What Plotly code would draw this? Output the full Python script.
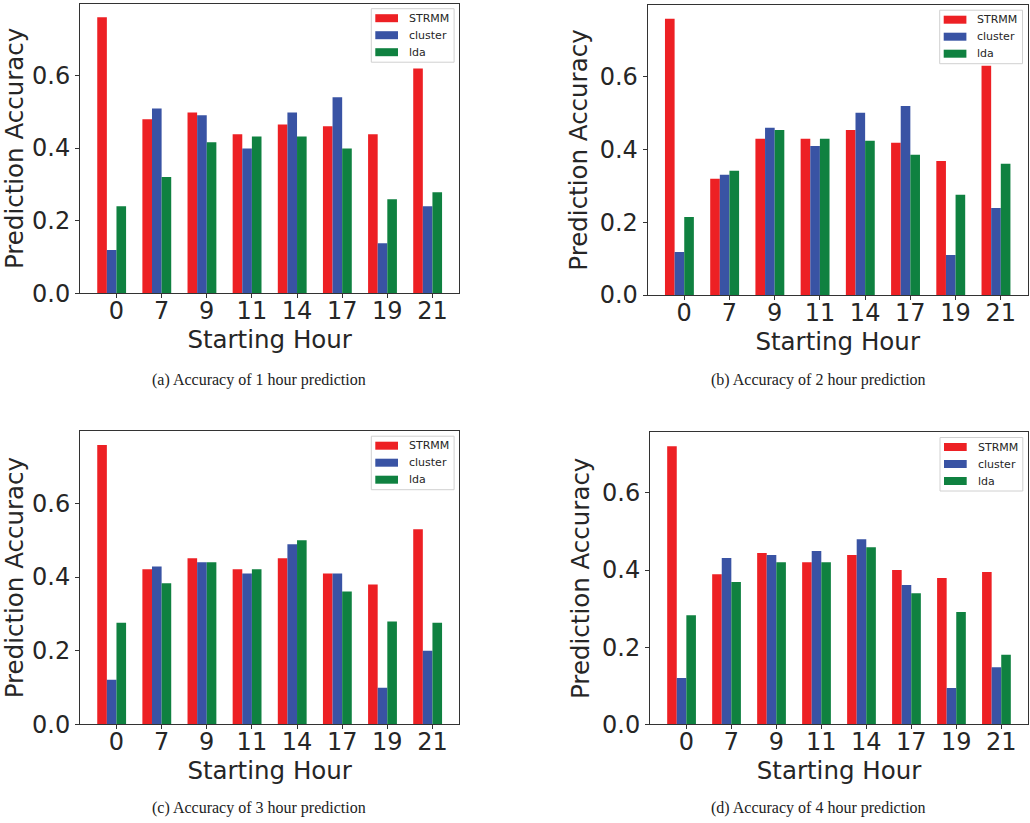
import plotly.graph_objects as go

W, H = 1030, 823

hours = ["0", "7", "9", "11", "14", "17", "19", "21"]
series_names = ["STRMM", "cluster", "lda"]
series_colors = ["#ED2024", "#3953A4", "#0F8140"]

# (a) 1 hour prediction
strmm_1h = [0.760, 0.479, 0.498, 0.438, 0.465, 0.460, 0.438, 0.619]
cluster_1h = [0.119, 0.509, 0.490, 0.399, 0.498, 0.540, 0.138, 0.240]
lda_1h = [0.240, 0.320, 0.416, 0.432, 0.432, 0.399, 0.259, 0.278]

# (b) 2 hour prediction
strmm_2h = [0.758, 0.319, 0.429, 0.429, 0.453, 0.418, 0.368, 0.629]
cluster_2h = [0.118, 0.330, 0.459, 0.409, 0.500, 0.519, 0.110, 0.239]
lda_2h = [0.214, 0.341, 0.453, 0.429, 0.423, 0.385, 0.275, 0.360]

# (c) 3 hour prediction
strmm_3h = [0.759, 0.421, 0.451, 0.421, 0.451, 0.410, 0.380, 0.530]
cluster_3h = [0.121, 0.429, 0.440, 0.410, 0.489, 0.410, 0.099, 0.200]
lda_3h = [0.276, 0.383, 0.440, 0.421, 0.500, 0.361, 0.279, 0.276]

# (d) 4 hour prediction
strmm_4h = [0.721, 0.389, 0.444, 0.420, 0.439, 0.400, 0.379, 0.395]
cluster_4h = [0.120, 0.431, 0.439, 0.449, 0.480, 0.361, 0.094, 0.148]
lda_4h = [0.283, 0.369, 0.420, 0.420, 0.459, 0.340, 0.291, 0.180]

captions = [
    "(a) Accuracy of 1 hour prediction",
    "(b) Accuracy of 2 hour prediction",
    "(c) Accuracy of 3 hour prediction",
    "(d) Accuracy of 4 hour prediction",
]

panels_data = [
    [strmm_1h, cluster_1h, lda_1h],
    [strmm_2h, cluster_2h, lda_2h],
    [strmm_3h, cluster_3h, lda_3h],
    [strmm_4h, cluster_4h, lda_4h],
]

# plot areas in pixels: left, top, right, bottom
areas = [
    (80.0, 3.5, 459.3, 293.3),
    (647.7, 5.0, 1027.7, 295.0),
    (80.0, 431.0, 459.3, 724.3),
    (650.0, 432.3, 1028.0, 724.3),
]
caption_pos = [(258.5, 380.0), (818.5, 380.0), (258.5, 808.0), (818.5, 808.0)]

TEXT = "#262626"
FONT = "DejaVu Sans"


def px_x(x):
    return x / W


def px_y(y):
    return 1 - y / H


bw = 0.213
offsets = [-1.5 * bw, -0.5 * bw, 0.5 * bw]
lo = -2 * bw
hi = len(hours) - 1 + bw
pad = 0.05 * (hi - lo)
xrange_ = [lo - pad, hi + pad]

fig = go.Figure()
layout = dict(
    width=W, height=H,
    margin=dict(l=0, r=0, t=0, b=0),
    paper_bgcolor="white", plot_bgcolor="white",
    barmode="overlay", showlegend=False,
    font=dict(family=FONT, color=TEXT),
)
shapes = []
annotations = []

for p, (vals, area) in enumerate(zip(panels_data, areas)):
    n = "" if p == 0 else str(p + 1)
    xa, ya = "x" + n, "y" + n
    L, T, R, B = area
    for s, (name, col, v) in enumerate(zip(series_names, series_colors, vals)):
        fig.add_trace(go.Bar(
            x=[i + offsets[s] for i in range(len(hours))], y=v, width=bw,
            name=name, marker=dict(color=col, line=dict(width=0)),
            xaxis=xa, yaxis=ya, showlegend=False,
        ))
    ymax = 1.05 * max(max(v) for v in vals)
    layout["xaxis" + n] = dict(
        domain=[px_x(L), px_x(R)], anchor=ya, range=xrange_,
        tickmode="array", tickvals=list(range(len(hours))), ticktext=hours,
        ticks="outside", ticklen=4, tickwidth=1, tickcolor="#333333",
        showline=True, linecolor="#333333", linewidth=1, mirror=True,
        showgrid=False, zeroline=False, automargin=False,
        ticklabelstandoff=-8,
        tickfont=dict(size=24, color=TEXT, family=FONT),
        title=dict(text="Starting Hour", font=dict(size=24.5, color=TEXT, family=FONT), standoff=2),
    )
    layout["yaxis" + n] = dict(
        domain=[px_y(B), px_y(T)], anchor=xa, range=[0, ymax],
        tickmode="array", tickvals=[0, 0.2, 0.4, 0.6], tickformat=".1f",
        ticks="outside", ticklen=4, tickwidth=1, tickcolor="#333333",
        showline=True, linecolor="#333333", linewidth=1, mirror=True,
        showgrid=False, zeroline=False, automargin=False,
        tickfont=dict(size=24, color=TEXT, family=FONT),
        title=dict(text="Prediction Accuracy", font=dict(size=24.5, color=TEXT, family=FONT), standoff=5),
    )
    # legend box (matplotlib-style)
    bx0, bx1 = R - 88.0, R - 5.2
    by0, by1 = T + 5.2, T + 58.7
    shapes.append(dict(type="rect", xref="paper", yref="paper",
                       x0=px_x(bx0), x1=px_x(bx1), y0=px_y(by1), y1=px_y(by0),
                       line=dict(color="#d0d0d0", width=1), fillcolor="rgba(255,255,255,0.85)",
                       layer="above"))
    for s, (name, col) in enumerate(zip(series_names, series_colors)):
        cy = T + 14.7 + 17.0 * s
        shapes.append(dict(type="rect", xref="paper", yref="paper",
                           x0=px_x(bx0 + 4.0), x1=px_x(bx0 + 26.7),
                           y0=px_y(cy + 4), y1=px_y(cy - 4),
                           line=dict(width=0), fillcolor=col, layer="above"))
        annotations.append(dict(xref="paper", yref="paper", x=px_x(bx0 + 35.5), y=px_y(cy),
                                xanchor="left", yanchor="middle", showarrow=False,
                                text=name, font=dict(size=11, color=TEXT, family=FONT)))
    cx, cyy = caption_pos[p]
    annotations.append(dict(xref="paper", yref="paper", x=px_x(cx), y=px_y(cyy),
                            xanchor="center", yanchor="middle", showarrow=False,
                            text=captions[p],
                            font=dict(size=16, color="#222222", family="Liberation Serif")))

layout["shapes"] = shapes
layout["annotations"] = annotations
fig.update_layout(**layout)
fig.write_html("out.html")
